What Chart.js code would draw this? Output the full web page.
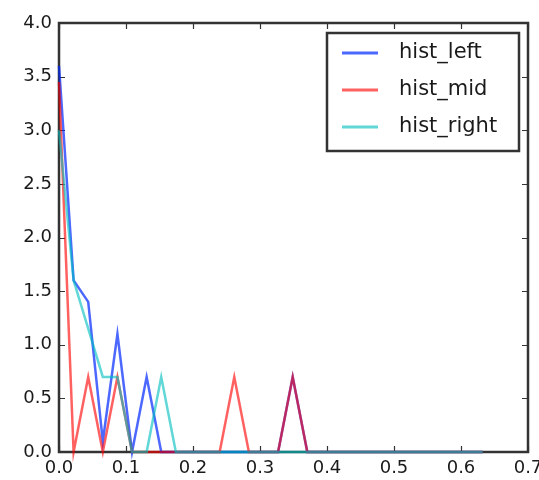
<!DOCTYPE html>
<html>
<head>
<meta charset="utf-8">
<script src="https://cdn.jsdelivr.net/npm/chart.js@4/dist/chart.umd.min.js"></script>
<style>
  html, body { margin: 0; padding: 0; background: #fff; }
  #wrap { width: 539px; height: 480px; position: relative; }
</style>
</head>
<body>
<div id="wrap"><canvas id="c" width="539" height="480"></canvas></div>
<script>
// ---- data ----
const binCenters = [0, 0.0218, 0.0436, 0.0654, 0.0872, 0.109, 0.1308, 0.1526, 0.1744, 0.1962,
  0.218, 0.2398, 0.2616, 0.2834, 0.3052, 0.327, 0.3488, 0.3706, 0.3924, 0.4142,
  0.436, 0.4578, 0.4796, 0.5014, 0.5232, 0.545, 0.5668, 0.5886, 0.6104, 0.6322];
const histLeft  = [3.6, 1.6, 1.4, 0.1, 1.1, 0, 0.7, 0, 0, 0, 0, 0, 0, 0, 0, 0, 0.7, 0, 0, 0, 0, 0, 0, 0, 0, 0, 0, 0, 0, 0];
const histMid   = [3.45, 0, 0.7, 0, 0.7, 0, 0, 0, 0, 0, 0, 0, 0.7, 0, 0, 0, 0.7, 0, 0, 0, 0, 0, 0, 0, 0, 0, 0, 0, 0, 0];
const histRight = [3.0, 1.6, 1.15, 0.7, 0.7, 0, 0, 0.7, 0, 0, 0, 0, 0, 0, 0, 0, 0, 0, 0, 0, 0, 0, 0, 0, 0, 0, 0, 0, 0, 0];
const seriesLabels = ['hist_left', 'hist_mid', 'hist_right'];
const xTicks = [0, 0.1, 0.2, 0.3, 0.4, 0.5, 0.6, 0.7];
const yTicks = [0, 0.5, 1.0, 1.5, 2.0, 2.5, 3.0, 3.5, 4.0];

const colors = ['rgba(0,40,255,0.7)', 'rgba(255,0,0,0.62)', 'rgba(0,191,191,0.62)'];
const FONT = 'DejaVu Sans';

function pts(vals) { return vals.map((v, i) => ({ x: binCenters[i], y: v })); }

const frameAndTicks = {
  id: 'frameAndTicks',
  beforeDatasetsDraw(chart) {
    const { ctx, chartArea: a, scales } = chart;
    ctx.save();
    ctx.strokeStyle = '#333';
    ctx.lineWidth = 2.5;
    ctx.strokeRect(a.left, a.top, a.right - a.left, a.bottom - a.top);
    ctx.lineWidth = 1.2;
    const L = 6;
    ctx.beginPath();
    xTicks.forEach(v => {
      const px = Math.round(scales.x.getPixelForValue(v)) + 0.5;
      ctx.moveTo(px, a.bottom); ctx.lineTo(px, a.bottom - L);
      ctx.moveTo(px, a.top); ctx.lineTo(px, a.top + L);
    });
    yTicks.forEach(v => {
      const py = Math.round(scales.y.getPixelForValue(v)) + 0.5;
      ctx.moveTo(a.left, py); ctx.lineTo(a.left + L, py);
      ctx.moveTo(a.right, py); ctx.lineTo(a.right - L, py);
    });
    ctx.stroke();
    ctx.restore();
  },
  afterDatasetsDraw(chart) {
    const { ctx } = chart;
    // legend box inside the plot
    const bx = 327, by = 33, bw = 192, bh = 118;
    ctx.save();
    ctx.fillStyle = '#fff';
    ctx.fillRect(bx, by, bw, bh);
    ctx.strokeStyle = '#333';
    ctx.lineWidth = 2.5;
    ctx.strokeRect(bx, by, bw, bh);
    ctx.font = '21px "' + FONT + '"';
    ctx.textBaseline = 'middle';
    ctx.textAlign = 'left';
    const rows = [53, 90, 127];
    chart.data.datasets.forEach((ds, i) => {
      const y = rows[i];
      ctx.strokeStyle = ds.borderColor;
      ctx.lineWidth = 3;
      ctx.beginPath();
      ctx.moveTo(342, y); ctx.lineTo(378, y);
      ctx.stroke();
      ctx.fillStyle = '#1a1a1a';
      ctx.fillText(ds.label, 399, y);
    });
    ctx.restore();
  }
};

new Chart(document.getElementById('c'), {
  type: 'line',
  data: {
    datasets: [
      { label: seriesLabels[0], data: pts(histLeft),  borderColor: colors[0], order: 2 },
      { label: seriesLabels[1], data: pts(histMid),   borderColor: colors[1], order: 1 },
      { label: seriesLabels[2], data: pts(histRight), borderColor: colors[2], order: 0 }
    ].map(d => Object.assign(d, { borderWidth: 2.5, pointRadius: 0, tension: 0, fill: false, clip: false }))
  },
  options: {
    responsive: false,
    animation: false,
    layout: { padding: { left: 0, right: 11, top: 23, bottom: 0 } },
    plugins: { legend: { display: false }, tooltip: { enabled: false } },
    scales: {
      x: {
        type: 'linear', min: 0, max: 0.7,
        afterBuildTicks(s) { s.ticks = xTicks.map(v => ({ value: v })); },
        afterFit(s) { s.height = 28; s.paddingLeft = 0; s.paddingRight = 0; },
        grid: { display: false, drawTicks: false },
        border: { display: false },
        ticks: {
          padding: 6, color: '#1a1a1a', maxRotation: 0, autoSkip: false,
          font: { family: FONT, size: 18 },
          callback: v => v.toFixed(1)
        }
      },
      y: {
        type: 'linear', min: 0, max: 4,
        afterBuildTicks(s) { s.ticks = yTicks.map(v => ({ value: v })); },
        afterFit(s) { s.width = 59; s.paddingTop = 0; s.paddingBottom = 0; },
        grid: { display: false, drawTicks: false },
        border: { display: false },
        ticks: {
          padding: 7, color: '#1a1a1a', autoSkip: false,
          font: { family: FONT, size: 18 },
          callback: v => v.toFixed(1)
        }
      }
    }
  },
  plugins: [frameAndTicks]
});
</script>
</body>
</html>
